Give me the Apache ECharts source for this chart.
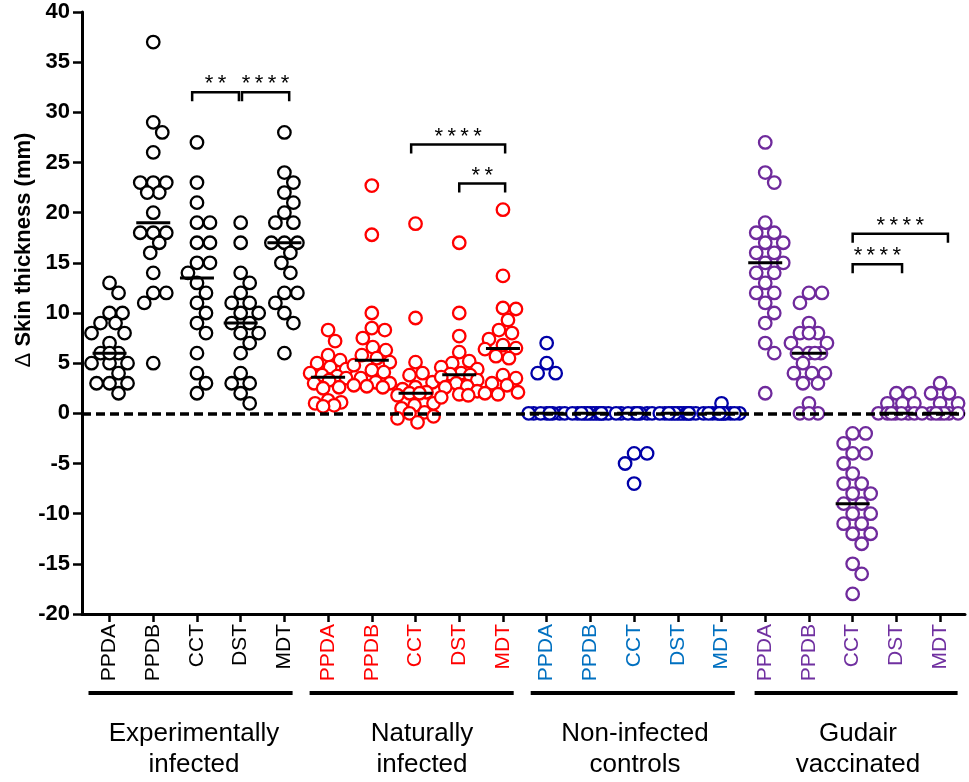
<!DOCTYPE html>
<html>
<head>
<meta charset="utf-8">
<script src="https://cdn.jsdelivr.net/npm/echarts@6.0.0/dist/echarts.min.js"></script>
<style>
  html, body { margin: 0; padding: 0; background: #fff; }
  #chart { width: 969px; height: 782px; }
</style>
</head>
<body>
<div id="chart"></div>
<script>
  'use strict'

  //------------------- Data START -------------------//
  const tests = ['PPDA', 'PPDB', 'CCT', 'DST', 'MDT']
  const groupNames = ['Experimentally\ninfected', 'Naturally\ninfected', 'Non-infected\ncontrols', 'Gudair\nvaccinated']
  const pointColors = ['#000000', '#ff0000', '#0000a8', '#6f2a9c']
  const labelColors = ['#000000', '#ff0000', '#0070c0', '#7030a0']

  // delta skin thickness (mm), one array per column
  const expPPDA = [13, 12, 10, 10, 9, 9, 8, 8, 7, 6, 6, 5, 5, 4, 3, 3, 3, 2, 6, 5]
  const expPPDB = [37, 29, 28, 26, 23, 23, 23, 22, 22, 20, 18, 18, 18, 17, 16, 14, 12, 12, 11, 5]
  const expCCT = [27, 23, 21, 19, 19, 17, 17, 15, 15, 14, 13, 12, 11, 10, 9, 8, 6, 4, 3, 2]
  const expDST = [19, 17, 14, 13, 12, 11, 11, 10, 10, 9, 9, 8, 8, 7, 6, 4, 3, 3, 2, 1]
  const expMDT = [28, 24, 23, 22, 21, 20, 19, 19, 17, 17, 17, 16, 15, 14, 12, 12, 11, 10, 9, 6]

  const natPPDA = [8.3, 7.2, 5.8, 5.3, 5.0, 4.6, 4.4, 4.0, 3.8, 3.7, 3.5, 3.3, 3.0, 2.6, 2.5, 1.3, 1.1, 1.0, 0.8, 0.7]
  const natPPDB = [22.7, 17.8, 10.0, 8.5, 8.3, 7.5, 6.6, 6.3, 5.8, 5.5, 5.1, 4.8, 4.3, 4.1, 3.5, 3.1, 3.0, 2.8, 2.7, 2.6]
  const natCCT = [18.9, 9.5, 5.1, 4.0, 3.8, 3.1, 2.6, 2.4, 2.1, 2.0, 2.0, 1.8, 1.0, 0.8, 0.5, 0.1, 0.0, -0.3, -0.5, -0.9]
  const natDST = [17.0, 10.0, 7.7, 6.1, 5.2, 5.0, 4.6, 4.4, 4.0, 3.9, 3.8, 3.6, 3.3, 3.0, 2.7, 2.6, 2.2, 1.9, 1.8, 1.6]
  const natMDT = [20.3, 13.7, 10.5, 10.4, 9.3, 8.3, 8.0, 7.4, 6.8, 6.5, 6.4, 5.7, 5.5, 3.8, 3.5, 3.0, 2.8, 2.1, 2.0, 1.9]

  const ctlPPDA = [7, 5, 4, 4, 0, 0, 0, 0, 0, 0, 0, 0]
  const ctlPPDB = [0, 0, 0, 0, 0, 0, 0, 0, 0, 0, 0, 0]
  const ctlCCT = [0, 0, 0, 0, 0, 0, 0, 0, -4, -4, -5, -7]
  const ctlDST = [0, 0, 0, 0, 0, 0, 0, 0, 0, 0, 0, 0]
  const ctlMDT = [1, 0, 0, 0, 0, 0, 0, 0, 0, 0, 0, 0]

  const vacPPDA = [27, 24, 23, 19, 18, 18, 17, 17, 16, 16, 15, 15, 14, 14, 13, 12, 12, 11, 10, 9, 7, 6, 2]
  const vacPPDB = [12, 12, 11, 9, 8, 8, 8, 7, 7, 6, 6, 6, 6, 5, 4, 4, 4, 3, 3, 1, 0, 0, 0]
  const vacCCT = [-2, -2, -3, -4, -4, -5, -6, -7, -7, -8, -8, -9, -9, -10, -10, -11, -11, -12, -12, -13, -15, -16, -18]
  const vacDST = [2, 2, 1, 1, 1, 0, 0, 0, 0, 0, 0, 0]
  const vacMDT = [3, 2, 2, 1, 1, 0, 0, 0, 0, 0, 0, 0]

  // median bars
  const medians = [6, 19, 13.5, 9, 17, 3.6, 5.3, 2.0, 3.85, 6.45, 0, 0, 0, 0, 0, 15, 6, -9, 0, 0]

  // significance brackets: from column, to column, height (mm), stars
  const bracketFrom = [1.89, 3.03, 6.9, 8.0, 17.0, 17.0]
  const bracketTo = [2.96, 4.11, 9.05, 9.05, 19.18, 18.13]
  const bracketY = [32, 32, 26.8, 22.9, 17.9, 14.85]
  const bracketStars = ['**', '****', '****', '**', '****', '****']
  //------------------- Data END -------------------//

  const columns = [
    expPPDA, expPPDB, expCCT, expDST, expMDT,
    natPPDA, natPPDB, natCCT, natDST, natMDT,
    ctlPPDA, ctlPPDB, ctlCCT, ctlDST, ctlMDT,
    vacPPDA, vacPPDB, vacCCT, vacDST, vacMDT,
  ]
  const tickValues = columns.map((_, i) => i)

  const X_MIN = -0.63
  const X_MAX = 19.57
  const PX_PER_X = 883 / (X_MAX - X_MIN)
  const PX_PER_Y = 602 / 60

  // simple beeswarm: push each point sideways until it clears the ones already placed
  const swarm = (values, minDist = 13, maxOff = 18) => {
    const placed = []
    return values.map(v => {
      const py = v * PX_PER_Y
      let best = 0
      let bestGap = -1
      for (let k = 0; k <= maxOff * 2; k++) {
        const dx = k % 2 ? (k + 1) / 2 : -k / 2
        const gap = placed.reduce((m, p) => Math.min(m, Math.hypot(p[0] - dx, p[1] - py)), Infinity)
        if (gap >= minDist) { best = dx; break }
        if (gap > bestGap) { best = dx; bestGap = gap }
      }
      placed.push([best, py])
      return best
    })
  }

  const pointSeries = groupNames.map((_, g) => {
    const data = []
    for (let t = 0; t < tests.length; t++) {
      const col = g * tests.length + t
      const offsets = swarm(columns[col])
      columns[col].forEach((v, k) => data.push([col + offsets[k] / PX_PER_X, v]))
    }
    return {
      type: 'scatter',
      symbol: 'circle',
      symbolSize: 12.5,
      silent: true,
      z: 3,
      itemStyle: {color: '#ffffff', borderColor: pointColors[g], borderWidth: 2.3, opacity: 1},
      data,
    }
  })

  const rich = {}
  labelColors.forEach((c, g) => {
    rich['g' + g] = {color: c, fontSize: 21, fontFamily: 'Liberation Sans'}
  })

  const graphic = [
    {
      type: 'text',
      x: 24, y: 250,
      rotation: Math.PI / 2,
      style: {
        text: '{d|\u0394} Skin thickness (mm)',
        font: 'bold 22px "Liberation Sans"',
        fill: '#000',
        align: 'center',
        verticalAlign: 'middle',
        rich: {d: {fontWeight: 'normal', fontSize: 22, fontFamily: 'Liberation Sans'}},
      },
    },
  ]
  const barStarts = [88.5, 309.6, 530.7, 754.6]
  const barEnds = [292.6, 513.7, 734.8, 957.6]
  const labelCenters = [194, 422, 635, 858]
  groupNames.forEach((name, g) => {
    graphic.push({
      type: 'line',
      shape: {x1: barStarts[g], y1: 693, x2: barEnds[g], y2: 693},
      style: {stroke: '#000', lineWidth: 4},
    })
    graphic.push({
      type: 'text',
      x: labelCenters[g], y: 749,
      style: {
        text: name,
        font: '26px "Liberation Sans"',
        lineHeight: 31,
        fill: '#000',
        align: 'center',
        verticalAlign: 'middle',
      },
    })
  })

  const chart = echarts.init(document.getElementById('chart'), null, {renderer: 'canvas'})
  chart.setOption({
    animation: false,
    backgroundColor: '#ffffff',
    grid: {left: 82, right: 4, top: 12, bottom: 168, containLabel: false},
    xAxis: {
      type: 'value',
      min: X_MIN,
      max: X_MAX,
      axisLine: {show: true, onZero: false, lineStyle: {color: '#000', width: 3}},
      axisTick: {show: true, length: 8, customValues: tickValues, lineStyle: {color: '#000', width: 2.5}},
      axisLabel: {
        show: true,
        customValues: tickValues,
        rotate: 90,
        margin: 10,
        formatter: v => `{g${Math.floor(v / 5)}|${tests[v % 5]}}`,
        rich,
      },
      splitLine: {show: false},
    },
    yAxis: {
      type: 'value',
      min: -20,
      max: 40,
      interval: 5,
      axisLine: {show: true, onZero: false, lineStyle: {color: '#000', width: 3}},
      axisTick: {show: true, length: 9, lineStyle: {color: '#000', width: 2.5}},
      axisLabel: {color: '#000', fontWeight: 'bold', fontSize: 22, fontFamily: 'Liberation Sans', margin: 12},
      splitLine: {show: false},
    },
    graphic,
    series: [
      {
        // dashed zero line, kept under the points
        type: 'scatter',
        data: [],
        z: 1,
        silent: true,
        markLine: {
          silent: true,
          symbol: ['none', 'none'],
          label: {show: false},
          lineStyle: {color: '#000', width: 3.5, type: [9, 5]},
          data: [{yAxis: 0}],
        },
      },
      ...pointSeries,
      {
        type: 'scatter',
        symbol: 'rect',
        symbolSize: [34, 3],
        silent: true,
        z: 5,
        itemStyle: {color: '#000', opacity: 1},
        data: medians.map((m, i) => [i, m]),
      },
      {
        type: 'custom',
        silent: true,
        z: 6,
        data: bracketY.map((y, i) => [bracketFrom[i], bracketTo[i], y]),
        encode: {x: [0, 1], y: 2},
        renderItem: (params, api) => {
          const p1 = api.coord([api.value(0), api.value(2)])
          const p2 = api.coord([api.value(1), api.value(2)])
          const drop = 9
          return {
            type: 'group',
            children: [
              {
                type: 'polyline',
                shape: {points: [[p1[0], p1[1] + drop], p1, p2, [p2[0], p2[1] + drop]]},
                style: {stroke: '#000', lineWidth: 2.5, fill: null},
              },
              {
                type: 'text',
                style: {
                  text: bracketStars[params.dataIndex].split('').join('\u2009'),
                  x: (p1[0] + p2[0]) / 2,
                  y: p1[1] - 8,
                  align: 'center',
                  verticalAlign: 'middle',
                  font: '22px "Liberation Sans"',
                  fill: '#000',
                },
              },
            ],
          }
        },
      },
    ],
  })
</script>
</body>
</html>
